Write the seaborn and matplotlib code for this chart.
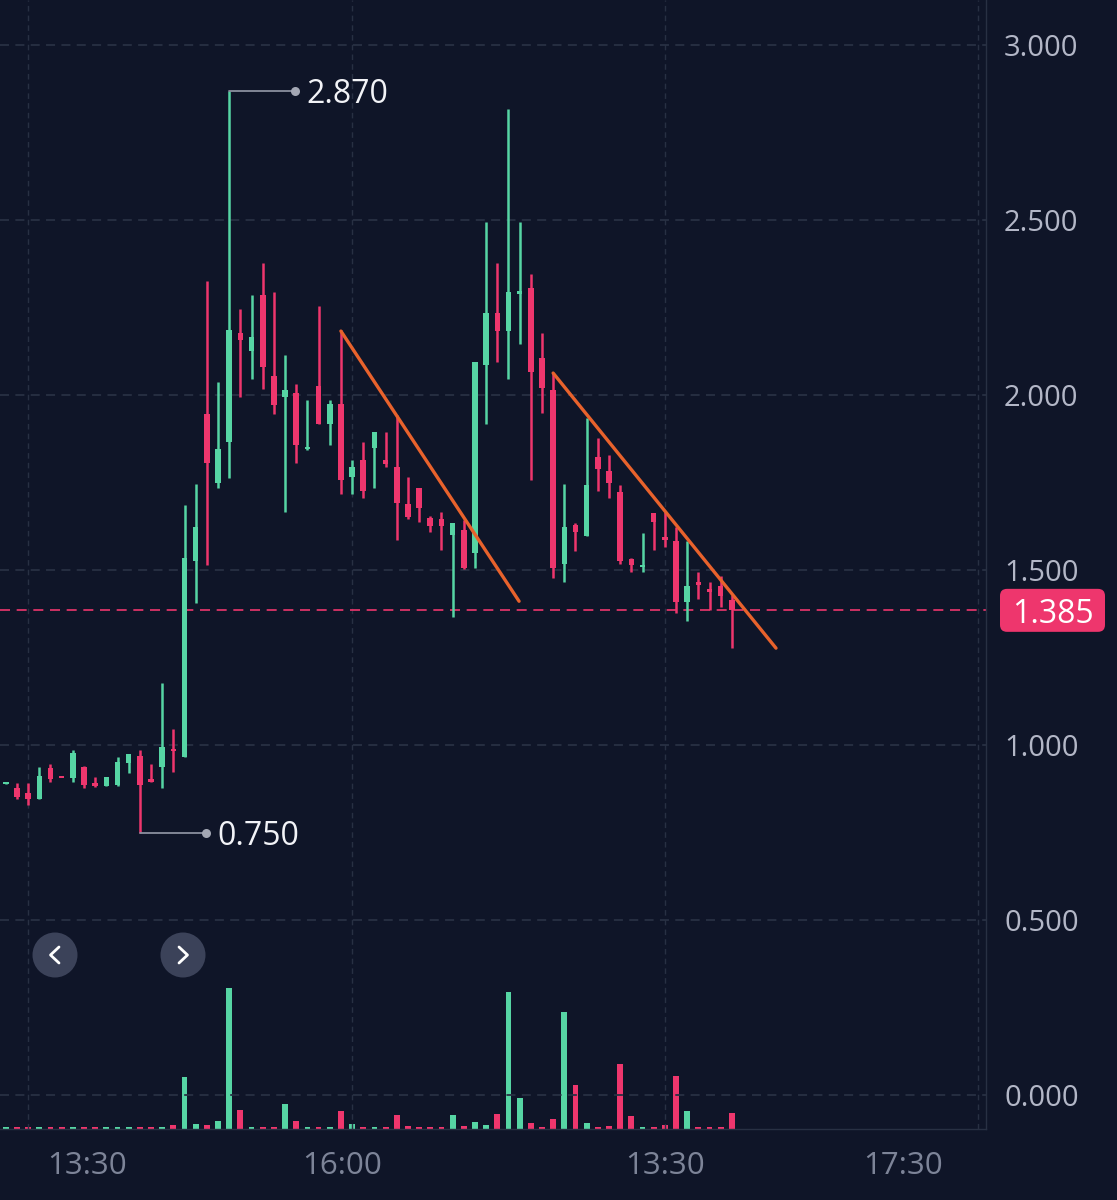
import numpy as np
import pandas as pd
import seaborn as sns
import matplotlib.pyplot as plt
from matplotlib.lines import Line2D
from matplotlib.patches import Circle, FancyBboxPatch
from matplotlib.transforms import IdentityTransform

# candles, one per interval (index = position on the time axis)
opens = [0.889, 0.877, 0.863, 0.846, 0.934, 0.907, 0.906, 0.937, 0.891, 0.883,
         0.886, 0.949, 0.969, 0.903, 0.937, 0.989, 0.966, 1.526, 1.946, 1.749,
         1.866, 2.177, 2.126, 2.286, 2.054, 1.994, 2.006, 1.846, 2.026, 1.917,
         1.974, 1.766, 1.814, 1.849, 1.814, 1.794, 1.689, 1.734, 1.649, 1.646,
         1.600, 1.614, 1.549, 2.086, 2.234, 2.183, 2.289, 2.306, 2.106, 2.014,
         1.517, 1.629, 1.597, 1.823, 1.783, 1.723, 1.531, 1.509, 1.663, 1.594,
         1.583, 1.409, 1.466, 1.446, 1.454, 1.414]
highs = [0.892, 0.891, 0.891, 0.937, 0.946, 0.907, 0.986, 0.940, 0.909, 0.909,
         0.966, 0.974, 0.986, 0.946, 1.177, 1.046, 1.686, 1.746, 2.326, 2.037,
         2.870, 2.246, 2.286, 2.377, 2.294, 2.114, 2.031, 1.986, 2.254, 1.986,
         2.186, 1.814, 1.866, 1.894, 1.894, 1.943, 1.766, 1.734, 1.654, 1.666,
         1.634, 1.643, 2.094, 2.494, 2.377, 2.817, 2.494, 2.346, 2.177, 2.063,
         1.746, 1.634, 1.934, 1.877, 1.829, 1.743, 1.534, 1.606, 1.663, 1.666,
         1.623, 1.583, 1.494, 1.466, 1.483, 1.429]
lows = [0.889, 0.846, 0.829, 0.846, 0.894, 0.905, 0.894, 0.877, 0.880, 0.883,
        0.883, 0.920, 0.750, 0.894, 0.877, 0.923, 0.966, 1.406, 1.514, 1.734,
        1.763, 1.994, 2.046, 2.017, 1.946, 1.666, 1.806, 1.843, 1.917, 1.857,
        1.717, 1.717, 1.706, 1.734, 1.794, 1.586, 1.646, 1.637, 1.609, 1.557,
        1.366, 1.503, 1.506, 1.917, 2.094, 2.046, 2.146, 1.757, 1.949, 1.477,
        1.466, 1.554, 1.597, 1.726, 1.706, 1.517, 1.494, 1.494, 1.557, 1.566,
        1.377, 1.354, 1.417, 1.386, 1.394, 1.277]
closes = [0.891, 0.851, 0.846, 0.911, 0.903, 0.905, 0.977, 0.886, 0.883, 0.909,
          0.951, 0.974, 0.886, 0.894, 0.994, 0.983, 1.534, 1.623, 1.806, 1.846,
          2.186, 2.157, 2.166, 2.080, 1.971, 2.014, 1.857, 1.851, 1.917, 1.974,
          1.757, 1.794, 1.726, 1.894, 1.803, 1.691, 1.651, 1.677, 1.626, 1.626,
          1.634, 1.506, 2.094, 2.234, 2.183, 2.294, 2.297, 2.066, 2.020, 1.506,
          1.623, 1.609, 1.743, 1.789, 1.749, 1.526, 1.514, 1.514, 1.637, 1.586,
          1.409, 1.454, 1.457, 1.437, 1.426, 1.385]
volume = [1.5, 1.5, 1.5, 1.5, 1.5, 1.5, 1.5, 1.5, 1.5, 1.5,
          2, 1.5, 1.5, 1.5, 1.5, 4, 52, 5, 4, 8,
          141, 19, 2, 1.5, 2, 25, 8, 1.5, 1.5, 1.5,
          18, 5, 1.5, 1.5, 1.5, 14, 3, 1.5, 1.5, 1.5,
          14, 3, 7, 4, 15, 137, 31, 6, 1.5, 10,
          117, 44, 6, 1.5, 3, 65, 13, 1.5, 1.5, 4,
          53, 18, 1.5, 1.5, 1.5, 16]

# drawn trend lines (start/end candle index, price)
trend_x = [[30, 45.95], [49, 68.95]]
trend_y = [[2.183, 1.411], [2.063, 1.277]]

price_ticks = [0.0, 0.5, 1.0, 1.5, 2.0, 2.5, 3.0]
time_grid = [2, 31, 59, 87]
time_ticks = [7.27, 30.1, 59.0, 80.3]
time_labels = ["13:30", "16:00", "13:30", "17:30"]

bg = "#0f1528"
up = "#56d5a4"
down = "#ee366d"
grid_c = "#283043"

sns.set_theme(style="dark", rc={"axes.facecolor": bg, "figure.facecolor": bg})
plt.rcParams["font.family"] = ["Open Sans", "DejaVu Sans"]

o = np.array(opens); h = np.array(highs); l = np.array(lows); c = np.array(closes)
idx = np.arange(len(o))
side = np.where(c >= o, "up", "down")
colors = np.where(c >= o, up, down)

fig = plt.figure(figsize=(11.17, 12.0), dpi=100, facecolor=bg)
rect = [0, 1 - 1129 / 1200, 986 / 1117, 1129 / 1200]
ax_vol = fig.add_axes(rect)
ax = fig.add_axes(rect, sharex=ax_vol)
ax.patch.set_visible(False)

# volume
vol_df = pd.DataFrame({"bar": idx, "volume": volume, "side": side})
sns.barplot(data=vol_df, x="bar", y="volume", hue="side",
            palette={"up": up, "down": down}, native_scale=True, dodge=False,
            width=0.52, saturation=1, errorbar=None, legend=False,
            linewidth=0, ax=ax_vol)
ax_vol.set_ylim(0, max(volume) * 8.0)
ax_vol.set_axis_off()

# grid
for y in price_ticks:
    ax.axhline(y, color=grid_c, lw=1.3, ls=(0, (5, 3.5)), zorder=0)
for x in time_grid:
    ax.axvline(x, color=grid_c, lw=1.0, ls=(0, (4, 3)), zorder=0)

# candles
ax.vlines(idx, l, h, colors=colors, linewidth=1.8, zorder=3)
body_lo = np.minimum(o, c)
body_h = np.maximum(np.abs(c - o), 0.006)
ax.bar(idx, body_h, bottom=body_lo, width=0.5, color=colors, linewidth=0, zorder=4)

# trend lines
for tx, ty in zip(trend_x, trend_y):
    ax.plot(tx, ty, color="#e8622c", lw=2.4, zorder=5)

# last price line
last = closes[-1]
ax.axhline(last, color=down, lw=1.2, ls=(0, (6, 4)), zorder=2)

# high / low markers
hi_i = int(np.argmax(h))
lo_i = int(np.argmin(l))
for i, val in [(hi_i, h[hi_i]), (lo_i, l[lo_i])]:
    ax.plot([i, i + 5.9], [val, val], color="#8a8f9f", lw=1.3, zorder=5)
    ax.plot(i + 5.9, val, "o", ms=6.5, color="#a3a7b4", mec="none", zorder=6)
    ax.text(i + 6.9, val, f"{val:.3f}", ha="left", va="center_baseline",
            color="#f2f3f7", fontsize=23, zorder=6)

ax.set_xlim(-0.52, 87.75)
ax.set_ylim(-0.097, 3.129)

ax.yaxis.tick_right()
ax.set_yticks(price_ticks, [f"{v:.3f}" for v in price_ticks])
ax.set_xticks(time_ticks, time_labels)
ax.tick_params(axis="y", length=0, pad=13, labelsize=21, labelcolor="#b3b7c7")
ax.tick_params(axis="x", length=0, pad=16, labelsize=22.5, labelcolor="#7d8498")
ax.set_xlabel("")
ax.set_ylabel("")
ax.grid(False)
for s in ["top", "left"]:
    ax.spines[s].set_visible(False)
for s in ["right", "bottom"]:
    ax.spines[s].set_visible(True)
    ax.spines[s].set_color(grid_c)
    ax.spines[s].set_linewidth(1.0)

# last price tag on the price scale
fig.canvas.draw()
y_disp = ax.transData.transform((0, last))[1]
tag = FancyBboxPatch((1000, y_disp - 21.5), 105, 43,
                     boxstyle="round,pad=0,rounding_size=7",
                     fc=down, ec="none", transform=IdentityTransform())
fig.add_artist(tag)
fig.text(1052.5 / 1117, y_disp / 1200, f"{last:.3f}", ha="center",
         va="center_baseline", color="white", fontsize=23)

# scroll buttons
for cx, sign in [(55, -1), (183, 1)]:
    cy = 1200 - 955
    fig.add_artist(Circle((cx, cy), 22.5, fc="#3b4259", ec="none",
                          transform=IdentityTransform()))
    fig.add_artist(Line2D([cx - sign * 4, cx + sign * 4.5, cx - sign * 4],
                          [cy + 8, cy, cy - 8], color="white", lw=2.0,
                          solid_capstyle="round", solid_joinstyle="round",
                          transform=IdentityTransform()))

fig.savefig("out.png", dpi=100, facecolor=bg)
